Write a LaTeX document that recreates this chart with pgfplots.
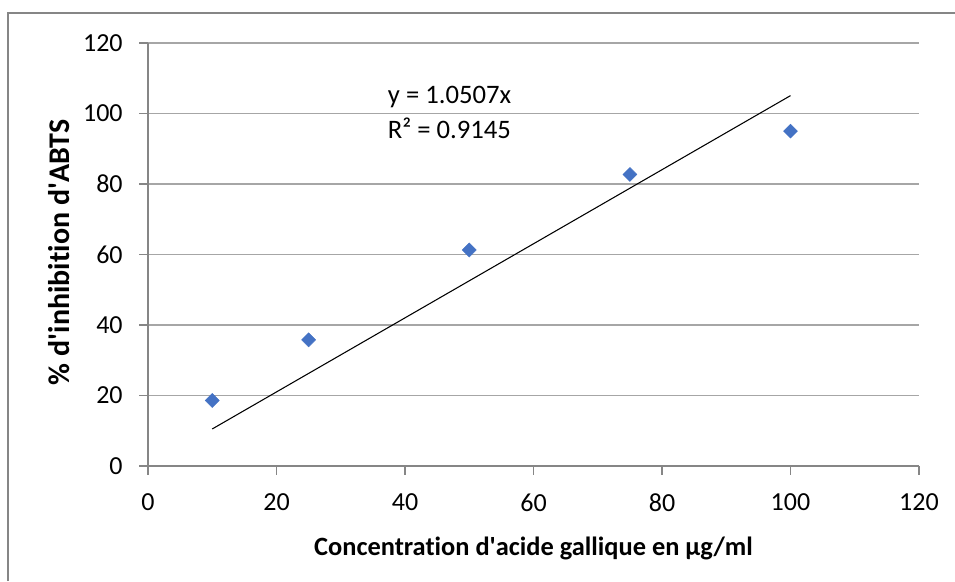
\documentclass[border=0pt]{standalone}
\usepackage{pgfplots}
\pgfplotsset{compat=1.18}
\usepackage{fontspec}
\setmainfont{Carlito}[Ligatures={NoCommon}]
\definecolor{ptblue}{HTML}{4472C4}
\definecolor{gridg}{HTML}{A6A6A6}
\definecolor{axisg}{HTML}{868686}
\begin{document}
\begin{tikzpicture}[x=0.75pt,y=0.75pt]
\useasboundingbox (0,0) rectangle (955,581);
\draw[axisg, line width=0.9pt] (8,0) -- (8,568) -- (955,568);
\begin{axis}[
  at={(111pt,86.25pt)}, anchor=south west,
  scale only axis, width=578.25pt, height=317.25pt,
  xmin=0, xmax=120, ymin=0, ymax=120,
  xtick={0,20,...,120}, ytick={0,20,...,120},
  axis x line*=bottom, axis y line*=left,
  axis line style={axisg, line width=0.8pt, -},
  ymajorgrids, grid style={gridg, line width=0.8pt},
  tick align=outside, major tick length=6.5pt,
  tick style={axisg, line width=0.8pt},
  /pgf/number format/assume math mode=true,
  ticklabel style={font=\fontsize{19.5}{21}\selectfont},
  xticklabel style={yshift=-11pt},
  yticklabel style={xshift=-9pt},
  xlabel={Concentration d\textquotesingle acide gallique en µg/ml},
  ylabel={\% d\textquotesingle inhibition d\textquotesingle ABTS},
  xlabel style={font=\bfseries\fontsize{19.8}{21}\selectfont, at={(axis description cs:0.5,-0.194)}, anchor=center},
  ylabel style={font=\bfseries\fontsize{22.5}{24}\selectfont, at={(axis description cs:-0.1154,0.505)}, anchor=center},
  clip=false,
]
\addplot[black, line width=0.8pt, no marks] coordinates {(10,10.507) (100,105.07)};
\addplot[only marks, mark=square*, mark size=3.7pt, mark options={rotate=45, fill=ptblue, draw=ptblue}] coordinates {
(10,18.6) (25,35.8) (50,61.3) (75,82.7) (100,95.0)};
\node[anchor=west, inner sep=0pt, font=\fontsize{20}{22}\selectfont] at (axis cs:37.3,104.7) {y = 1.0507x};
\node[anchor=west, inner sep=0pt, font=\fontsize{20}{22}\selectfont] at (axis cs:37.3,95.9) {R² = 0.9145};
\end{axis}
\end{tikzpicture}
\end{document}
